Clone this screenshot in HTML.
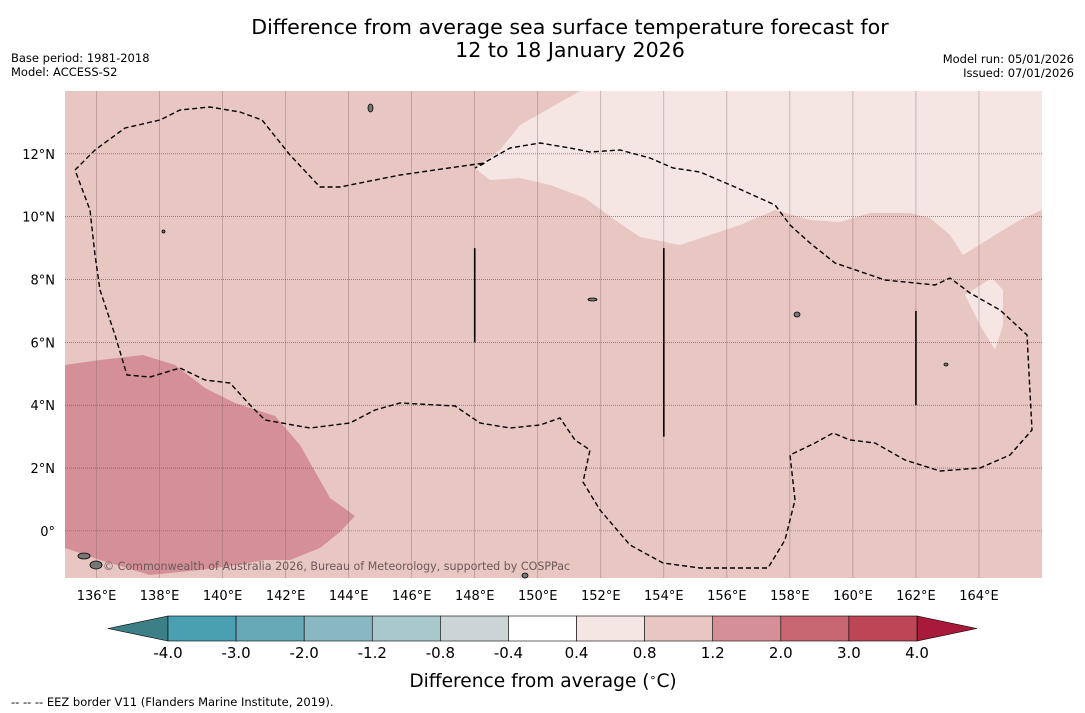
<!DOCTYPE html>
<html><head><meta charset="utf-8"><style>
body{margin:0;background:#fff;width:1085px;height:713px;overflow:hidden;font-family:"DejaVu Sans","Liberation Sans",sans-serif}
svg{position:absolute;left:0;top:0}
</style></head><body>
<svg id="s" width="1085" height="713" xmlns="http://www.w3.org/2000/svg" font-family="DejaVu Sans, Liberation Sans, sans-serif">
<text x="570" y="34" font-size="20.6" text-anchor="middle">Difference from average sea surface temperature forecast for</text>
<text x="570" y="57" font-size="20.6" text-anchor="middle">12 to 18 January 2026</text>
<text x="11" y="62" font-size="11.5">Base period: 1981-2018</text>
<text x="11" y="76" font-size="11.5">Model: ACCESS-S2</text>
<text x="1074" y="63" font-size="11.5" text-anchor="end">Model run: 05/01/2026</text>
<text x="1074" y="77" font-size="11.5" text-anchor="end">Issued: 07/01/2026</text>
<g id="map"></g>
<g id="cbar"></g>
<text x="543" y="687" font-size="18.6" text-anchor="middle">Difference from average (<tspan baseline-shift="super" font-size="11">∘</tspan>C)</text>
<text x="11" y="706" font-size="11.5">--  --  -- EEZ border V11 (Flanders Marine Institute, 2019).</text>
</svg>
<script>
const NS="http://www.w3.org/2000/svg";
const lonTicks=[136,138,140,142,144,146,148,150,152,154,156,158,160,162,164];
const latTicks=[0,2,4,6,8,10,12];
const levels=[-4.0,-3.0,-2.0,-1.2,-0.8,-0.4,0.4,0.8,1.2,2.0,3.0,4.0];
const levelColors=["#4aa0b0","#68a9b8","#8ab8c2","#a9c8cd","#cbd5d6","#ffffff","#f5e6e4","#e8c6c2","#d49096","#c76570","#bd4656"];
const extendColors=["#3d7f86","#a8193a"];
const X0=65,X1=1042,Y0=91,Y1=578,LON0=135,LON1=166,LAT0=-1.5,LAT1=14;
const xs=l=>X0+(l-LON0)/(LON1-LON0)*(X1-X0);
const ys=l=>Y1-(l-LAT0)/(LAT1-LAT0)*(Y1-Y0);
function mk(t,a,p){const e=document.createElementNS(NS,t);for(const k in a)e.setAttribute(k,a[k]);p.appendChild(e);return e;}
const map=document.getElementById('map');
const bg=mk('rect',{x:X0,y:Y0,width:X1-X0,height:Y1-Y0,fill:"#e8c6c2"},map);


const light="580,91 520,125 500,150 475,168 490,180 520,178 550,185 585,198 615,220 640,237 680,245 710,235 740,225 775,210 810,220 840,222 870,213 910,213 930,218 950,235 963,255 995,235 1020,220 1042,210 1042,91";
const l1=mk('polygon',{points:light,fill:"#f5e6e4"},map);


const l2=mk('polygon',{points:"965,295 992,278 1003,290 1003,325 995,350 980,325",fill:"#f5e6e4"},map);


const dark="65,365 100,360 143,355 175,365 205,388 235,403 275,416 300,445 330,498 355,516 340,532 320,548 290,560 265,560 230,566 200,570 150,575 100,560 65,548";
const d1=mk('polygon',{points:dark,fill:"#d49096"},map);


for(const lo of lonTicks){
 const g=mk('line',{x1:xs(lo),x2:xs(lo),y1:Y0,y2:Y1,stroke:"#8a7070","stroke-width":0.6,"stroke-opacity":0.7},map);
 
 
 const t=mk('text',{x:xs(lo),y:600,"font-size":13,"text-anchor":"middle"},map);t.textContent=lo+"°E";
 
 
}
for(const la of latTicks){
 const g=mk('line',{x1:X0,x2:X1,y1:ys(la),y2:ys(la),stroke:"#555","stroke-width":0.6,"stroke-dasharray":"1,1"},map);
 
 
 const t=mk('text',{x:55,y:ys(la)+5,"font-size":13,"text-anchor":"end"},map);t.textContent=la===0?"0°":la+"°N";
 
 
}
const eez="75,170 95,150 125,128 160,120 180,110 210,107 240,112 262,120 290,155 320,187 340,187 400,175 470,165 485,163 475,168 510,148 540,143 570,148 590,152 620,150 650,158 673,168 700,172 735,187 775,205 790,225 810,243 835,263 885,280 935,285 950,278 970,293 1000,310 1027,335 1032,430 1010,455 980,468 940,471 905,460 875,443 850,440 833,433 815,443 790,455 795,500 785,540 768,568 700,568 663,563 630,545 600,510 583,482 590,450 575,440 560,418 540,425 510,428 480,423 455,406 400,403 375,410 350,423 310,428 265,420 250,405 230,383 205,380 180,368 150,377 127,375 115,335 100,290 95,255 90,210 75,170";
const e=mk('polyline',{points:eez,fill:"none",stroke:"#000","stroke-width":1.4,"stroke-dasharray":"5,3"},map);


for(const [lo,a,b] of [[148,6,9],[154,3,9],[162,4,7]]){
 const v=mk('line',{x1:xs(lo),x2:xs(lo),y1:ys(b),y2:ys(a),stroke:"#000","stroke-width":1.6},map);
 
 
}
for(const [x,y,w,h] of [[368,104,5,8],[162,230,3,3],[588,298,9,3],[794,312,6,5],[944,363,4,3],[78,553,12,6],[90,561,12,8],[522,573,6,5]]){
 const r=mk('ellipse',{cx:x+w/2,cy:y+h/2,rx:w/2,ry:h/2,fill:"#777",stroke:"#000","stroke-width":0.8},map);
 
 
}
const cr=mk('text',{x:103,y:570,"font-size":11.1,fill:"#6b5a5a"},map);cr.textContent="© Commonwealth of Australia 2026, Bureau of Meteorology, supported by COSPPac";


const cb=document.getElementById('cbar');
const B0=168,B1=917,CY=616,CH=25,bw=(B1-B0)/levelColors.length;
const lt=mk('polygon',{points:`108,${CY+CH/2} ${B0},${CY} ${B0},${CY+CH}`,fill:extendColors[0],stroke:"#000","stroke-width":0.6},cb);


const rt=mk('polygon',{points:`977,${CY+CH/2} ${B1},${CY} ${B1},${CY+CH}`,fill:extendColors[1],stroke:"#000","stroke-width":0.6},cb);


levelColors.forEach((c,i)=>{
 const r=mk('rect',{x:B0+i*bw,y:CY,width:bw,height:CH,fill:c,stroke:"#000","stroke-width":0.6},cb);
 
 
});
levels.forEach((v,i)=>{
 const t=mk('text',{x:B0+i*bw,y:658,"font-size":15,"text-anchor":"middle"},cb);t.textContent=v.toFixed(1);
 
 
});
</script>
</body></html>
